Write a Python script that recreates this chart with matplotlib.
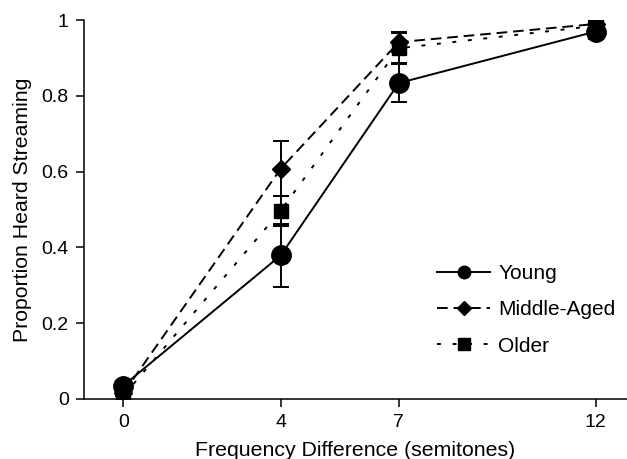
import matplotlib
matplotlib.use("Agg")
import matplotlib.pyplot as plt
from matplotlib.lines import Line2D
from matplotlib.ticker import FuncFormatter

plt.rcParams['font.family'] = ['Liberation Sans', 'DejaVu Sans']

# frequency difference in semitones
freq = [0, 4, 7, 12]

young = [0.035, 0.379, 0.834, 0.970]
young_err = [0.0, 0.084, 0.050, 0.020]

middle = [0.015, 0.608, 0.942, 0.990]
middle_err = [0.0, 0.072, 0.027, 0.010]

older = [0.008, 0.497, 0.926, 0.985]
older_err = [0.0, 0.040, 0.040, 0.010]

fig = plt.figure(figsize=(6.27, 4.59), dpi=100)
ax = fig.add_axes([0.134, 0.131, 0.866, 0.825])

lw = 1.4
ls_mid = (0, (5.5, 3))
ls_old = (0, (2, 6))
ax.errorbar(freq, older, yerr=older_err, color='black', lw=lw, ls=ls_old,
            marker='s', ms=10.5, capsize=6, elinewidth=lw, capthick=lw, zorder=3)
ax.errorbar(freq, middle, yerr=middle_err, color='black', lw=lw, ls=ls_mid,
            marker='D', ms=9, capsize=6, elinewidth=lw, capthick=lw, zorder=4)
ax.errorbar(freq, young, yerr=young_err, color='black', lw=lw, ls='-',
            marker='o', ms=14, capsize=6, elinewidth=lw, capthick=lw, zorder=5)

ax.set_xlim(-1, 12.8)
ax.set_ylim(0, 1)
ax.set_xticks(freq)
ax.set_yticks([0, 0.2, 0.4, 0.6, 0.8, 1.0])
ax.yaxis.set_major_formatter(FuncFormatter(lambda v, p: ('%g' % round(v, 1))))
ax.spines['top'].set_visible(False)
ax.spines['right'].set_visible(False)
ax.spines['left'].set_linewidth(1.1)
ax.spines['bottom'].set_linewidth(1.1)
ax.tick_params(direction='out', length=6, width=1.1, labelsize=14, pad=5)

ax.set_xlabel('Frequency Difference (semitones)', fontsize=15.3, labelpad=7)
ax.set_ylabel('Proportion Heard Streaming', fontsize=15.3, labelpad=7)

handles = [
    Line2D([], [], color='black', lw=lw, ls='-', marker='o', ms=9),
    Line2D([], [], color='black', lw=lw, ls=ls_mid, marker='D', ms=7),
    Line2D([], [], color='black', lw=lw, ls=ls_old, marker='s', ms=8),
]
labels = ['Young', 'Middle-Aged', 'Older']
fig.legend(handles, labels, loc='upper left', bbox_to_anchor=(437 / 627, 1 - 264 / 459),
           frameon=False, fontsize=15, handlelength=2.55, handletextpad=0.4,
           labelspacing=0.83, borderpad=0, borderaxespad=0)

fig.savefig('out.png', dpi=100)
